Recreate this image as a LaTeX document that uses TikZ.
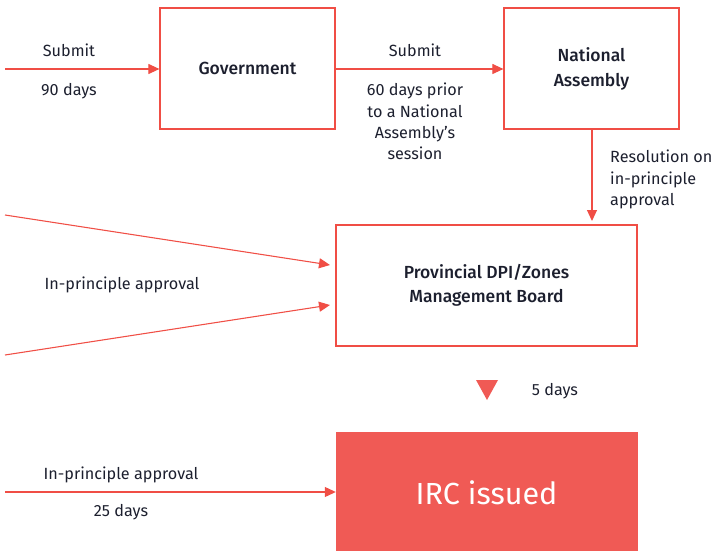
\documentclass[tikz,border=0pt]{standalone}
\usepackage{fontspec}
\setmainfont{Fira Sans}[BoldFont=Fira Sans Medium]
\usetikzlibrary{arrows.meta}
\definecolor{eyred}{HTML}{F04E45}
\definecolor{eyfill}{HTML}{F05A55}
\definecolor{ink}{HTML}{1C1F2E}
\tikzset{
  box/.style={draw=eyred, line width=1.2pt, fill=white, inner sep=0pt, text=ink, font=\fontsize{17.5}{25}\selectfont\bfseries, align=center},
  lbl/.style={text=ink, font=\fontsize{16.2}{21.2}\selectfont, align=center, inner sep=0pt},
  conn/.style={draw=eyred, line width=1.1pt, -{Triangle[length=11pt,width=10pt]}},
}
\begin{document}
\begin{tikzpicture}[x=1pt,y=-1pt]
\useasboundingbox (0,0) rectangle (716,551);
% boxes
\node[box, minimum width=175pt, minimum height=121pt] (gov) at (247.5,68.5) {Government};
\node[box, minimum width=175pt, minimum height=121pt] (na) at (591.5,68.5) {National\\Assembly};
\node[box, minimum width=301pt, minimum height=121pt, font=\fontsize{17.5}{24}\selectfont\bfseries] (prov) at (486.5,285.5) {Provincial DPI/Zones\\Management Board};
\node[draw=eyfill, fill=eyfill, minimum width=301pt, minimum height=122pt, inner sep=0pt, text=white, font=\fontsize{30.5}{34}\selectfont] (irc) at (486.5,493) {IRC issued};
% free ends
\coordinate (s1) at (5,69);
\coordinate (s2) at (5,215);
\coordinate (s3) at (5,355);
\coordinate (s4) at (5,492);
\coordinate (p1) at (330,265);
\coordinate (p2) at (330,305);
% connectors
\draw[conn] (s1) -- (gov.west |- s1);
\draw[conn] (gov.east |- s1) -- (na.west |- s1);
\draw[conn] (na.south -| 592,0) -- (592,221);
\draw[conn] (s2) -- (p1);
\draw[conn] (s3) -- (p2);
\draw[conn] (s4) -- (irc.west |- s4);
% triangle
\fill[eyfill] (476,380) -- (498,380) -- (487,400) -- cycle;
% labels
\node[lbl] (l1) at (69,50) {Submit};
\node[lbl] (l2) at (69,91) {90 days};
\node[lbl] (l3) at (415,50) {Submit};
\node[lbl, anchor=north] (l4) at (415,83) {60 days prior\\to a National\\Assembly’s\\session};
\node[lbl, align=left, anchor=north west] (l5) at (610,150) {Resolution on\\in-principle\\approval};
\node[lbl] (l6) at (122,285) {In-principle approval};
\node[lbl] (l7) at (555,391) {5 days};
\node[lbl] (l8) at (121,475) {In-principle approval};
\node[lbl] (l9) at (121,512) {25 days};
\end{tikzpicture}
\end{document}
